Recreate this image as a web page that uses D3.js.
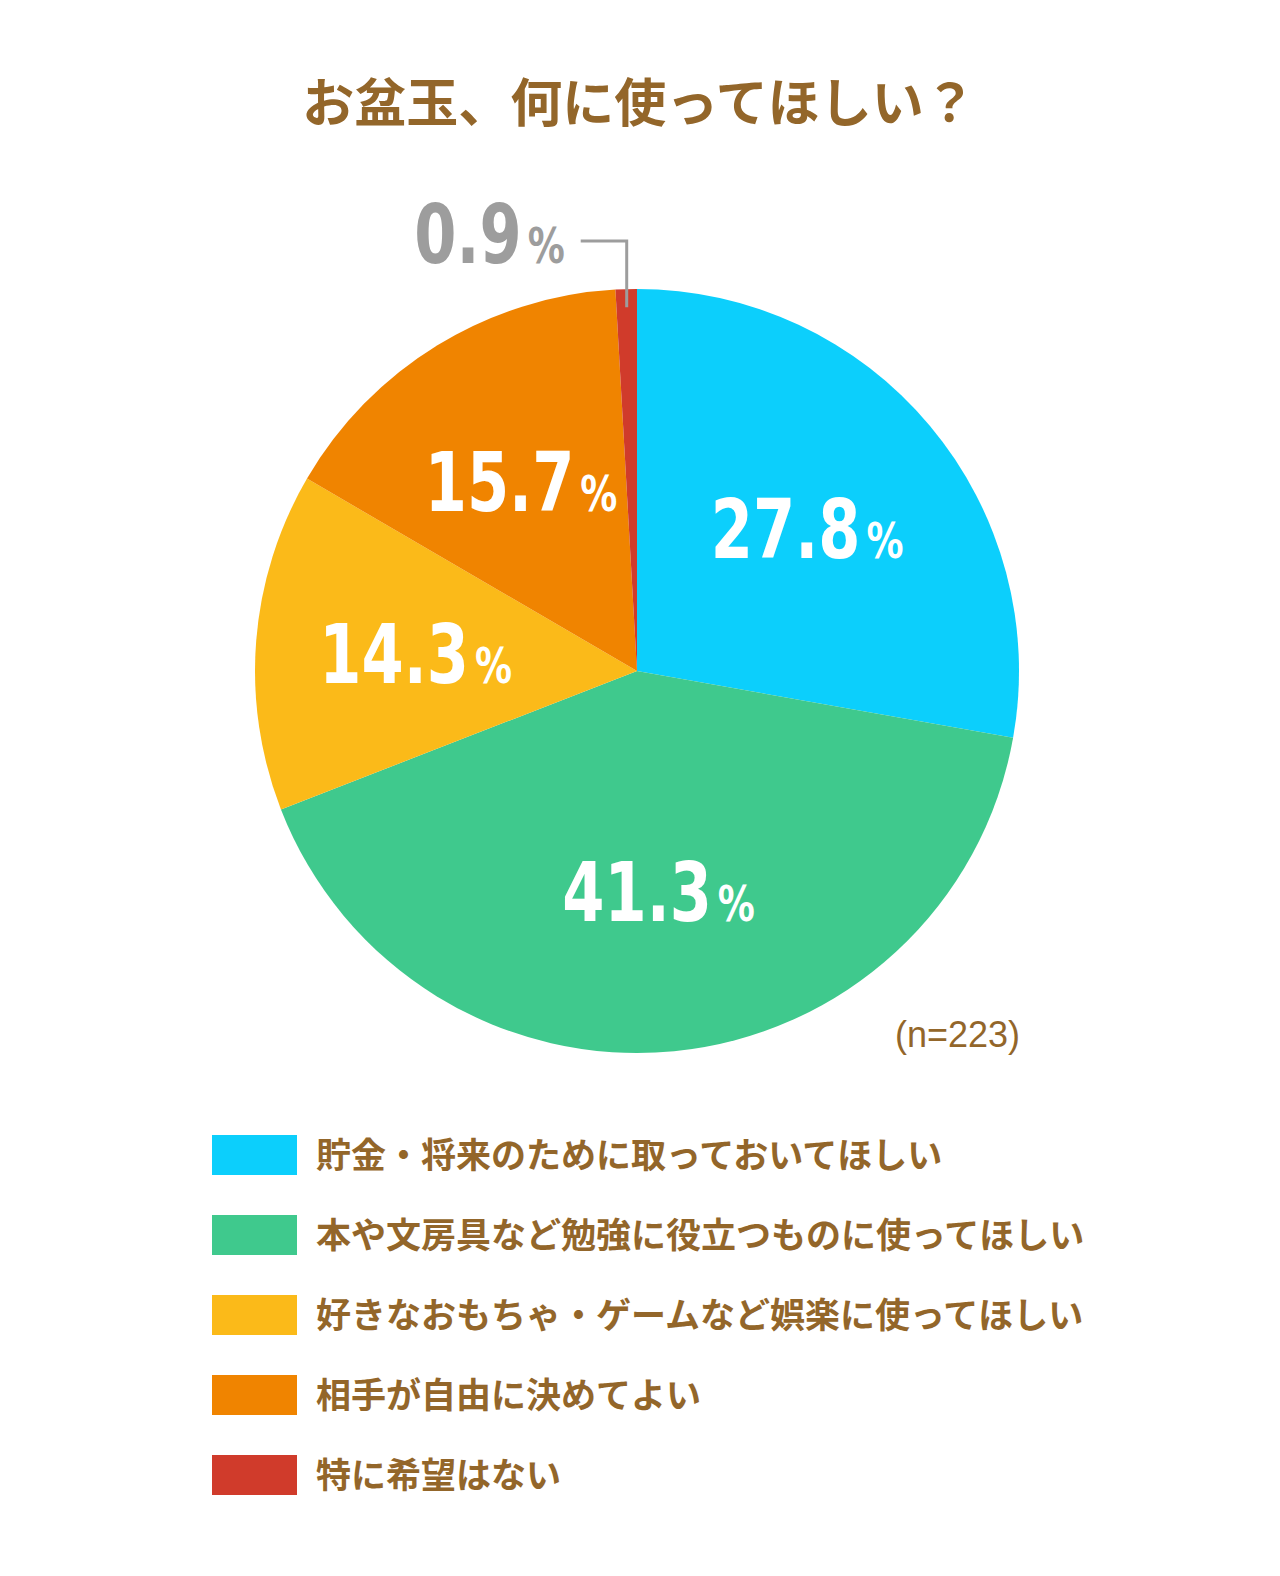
<!DOCTYPE html>
<html>
<head>
<meta charset="UTF-8">
<title>お盆玉</title>
<style>
    body { margin: 0; background: #fff; }
    .title { font: bold 52px "Noto Sans CJK JP", sans-serif; fill: #93662a; text-anchor: middle; }
    .legend text { font: bold 35px "Noto Sans CJK JP", sans-serif; fill: #93662a; }
    .pct { font-family: "DejaVu Sans", sans-serif; font-weight: bold; font-size: 82px; }
    .note { font: 36px "Liberation Sans", sans-serif; fill: #93662a; text-anchor: end; }
</style>
</head>
<body>
<svg width="1280" height="1576"></svg>
<script src="https://d3js.org/d3.v7.min.js"></script>
<script>
var categories = ["貯金・将来のために取っておいてほしい",
                  "本や文房具など勉強に役立つものに使ってほしい",
                  "好きなおもちゃ・ゲームなど娯楽に使ってほしい",
                  "相手が自由に決めてよい",
                  "特に希望はない"];
var values = [27.8, 41.3, 14.3, 15.7, 0.9];
var colors = ["#0ccffc", "#3fc98d", "#fbba19", "#f08400", "#d03b2b"];
var sampleNote = "(n=223)";

var svg = d3.select("svg"),
    cx = 637, cy = 671, radius = 382,
    squeeze = 0.74;   // narrow the digits, like a condensed face

svg.append("text").attr("class", "title")
    .attr("x", 639).attr("y", 122)
    .text("お盆玉、何に使ってほしい？");

var data = categories.map(function (c, i) { return { name: c, value: values[i], color: colors[i] }; });

var pie = d3.pie().sort(null).value(function (d) { return d.value; });
var arcs = pie(data);

var path = d3.arc().outerRadius(radius).innerRadius(0);
var label = d3.arc().outerRadius(222).innerRadius(222);
var edge = d3.arc().outerRadius(radius - 18).innerRadius(radius - 18);

var g = svg.append("g").attr("transform", "translate(" + cx + "," + cy + ")");

g.selectAll("path").data(arcs).enter().append("path")
    .attr("d", path)
    .attr("fill", function (d) { return d.data.color; });

function pctText(sel, v) {
    sel.append("tspan").text(v.toFixed(1));
    sel.append("tspan").attr("font-size", 50).attr("dx", 8).text("%");
}

// inside labels for the big slices
g.selectAll(".in").data(arcs.filter(function (d) { return d.data.value > 5; }))
    .enter().append("text")
    .attr("class", "pct")
    .attr("fill", "#fff")
    .attr("text-anchor", "middle")
    .attr("transform", function (d) { return "translate(" + label.centroid(d) + ") scale(" + squeeze + ",1)"; })
    .attr("dy", "0.36em")
    .each(function (d) { pctText(d3.select(this), d.data.value); });

// small slice: label outside with a leader line
arcs.filter(function (d) { return d.data.value <= 5; }).forEach(function (d) {
    var p = edge.centroid(d);
    var top = -radius - 48;
    g.append("polyline")
        .attr("points", [[p[0], p[1]], [p[0], top], [p[0] - 46, top]].map(function (q) { return q.join(","); }).join(" "))
        .attr("fill", "none").attr("stroke", "#9d9d9d").attr("stroke-width", 3);
    var t = g.append("text").attr("class", "pct").attr("fill", "#9d9d9d")
        .attr("text-anchor", "end")
        .attr("transform", "translate(" + (p[0] - 62) + "," + (top - 8) + ") scale(" + squeeze + ",1)")
        .attr("dy", "0.36em");
    pctText(t, d.data.value);
});

svg.append("text").attr("class", "note")
    .attr("x", 1020).attr("y", 1047)
    .text(sampleNote);

var legend = svg.append("g").attr("class", "legend")
    .selectAll("g").data(data).enter().append("g")
    .attr("transform", function (d, i) { return "translate(212," + (1135 + i * 80) + ")"; });

legend.append("rect")
    .attr("width", 85).attr("height", 40)
    .attr("fill", function (d) { return d.color; });

legend.append("text")
    .attr("x", 104).attr("y", 20).attr("dy", "0.36em")
    .text(function (d) { return d.name; });
</script>
</body>
</html>
